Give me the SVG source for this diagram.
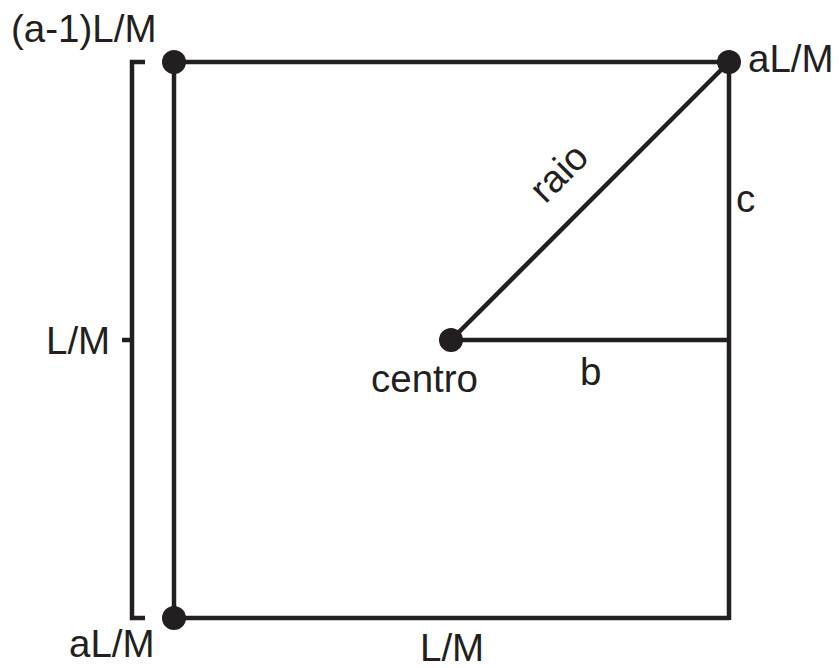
<svg xmlns="http://www.w3.org/2000/svg" width="839" height="668" viewBox="0 0 839 668">
<style>
.ln{stroke:#231f20;stroke-width:4.5;fill:none;stroke-linecap:butt}
.dot{fill:#231f20}
.t{font-family:"Liberation Sans",Arial,sans-serif;font-size:38.5px;fill:#231f20}
</style>
<rect width="839" height="668" fill="#fff"/>
<g id="connectors">
<polyline class="ln" points="145,62 132,62 132,618 145,618"/>
<line class="ln" x1="122" y1="340" x2="132" y2="340"/>
<line class="ln" x1="174" y1="62" x2="729" y2="62"/>
<line class="ln" x1="174" y1="62" x2="174" y2="618"/>
<line class="ln" x1="174" y1="618" x2="729" y2="618"/>
<line class="ln" x1="729" y1="62" x2="729" y2="620"/>
<line class="ln" x1="451" y1="340" x2="729" y2="340"/>
<line class="ln" x1="451" y1="340" x2="729" y2="62"/>
</g>
<g id="node-top-left">
<circle class="dot" cx="174" cy="62" r="12"/>
<text class="t" x="11" y="42">(a-1)L/M</text>
</g>
<g id="node-top-right">
<circle class="dot" cx="729" cy="62" r="12"/>
<text class="t" x="748" y="72">aL/M</text>
</g>
<g id="node-bottom-left">
<circle class="dot" cx="174" cy="618" r="12"/>
<text class="t" x="69" y="657">aL/M</text>
</g>
<g id="node-centro">
<circle class="dot" cx="451" cy="340" r="12"/>
<text class="t" x="371" y="392">centro</text>
</g>
<g id="labels">
<text class="t" x="46" y="354">L/M</text>
<text class="t" x="420" y="661">L/M</text>
<text class="t" x="580" y="385">b</text>
<text class="t" x="736" y="212">c</text>
<text class="t" text-anchor="middle" transform="translate(568,182) rotate(-45)">raio</text>
</g>
</svg>
